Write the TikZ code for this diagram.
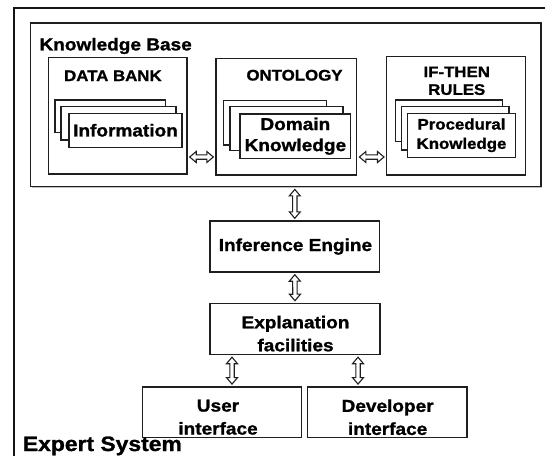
\documentclass[tikz,border=0pt]{standalone}
\usepackage{fontspec}
\setmainfont{Liberation Sans}[FakeStretch=1.1, BoldFeatures={FakeBold=1.2}]
\usetikzlibrary{calc}
\tikzset{
  box/.style={draw=black!88, line width=1.4pt, fill=white, inner sep=0pt},
  framestyle/.style={draw=black!92, line width=2pt},
  arrowline/.style={draw=black!88, line width=1.1pt, fill=white, line join=miter},
  tfifteen/.style={inner sep=0pt, align=center, font=\fontsize{15.3}{17.7}\selectfont\bfseries},
  tproc/.style={inner sep=0pt, align=center, font=\fontsize{15.3}{19.3}\selectfont\bfseries},
  tseventeen/.style={inner sep=0pt, align=center, font=\fontsize{17.3}{21}\selectfont\bfseries},
  ttwolines/.style={inner sep=0pt, align=center, font=\fontsize{17.3}{23}\selectfont\bfseries},
  tbig/.style={inner sep=0pt, font=\fontsize{20.8}{24}\selectfont\bfseries},
}
\newcommand\dblarr[2]{%
  \draw[arrowline] let \p1=($(#1)!2pt!(#2)$), \p2=($(#2)!2pt!(#1)$),
    \n1={atan2(\y2-\y1,\x2-\x1)}, \n2={veclen(\x2-\x1,\y2-\y1)} in
    [shift={(\p1)}, rotate=\n1]
    (0pt,0pt) -- (6.5pt,5.5pt) -- (6.5pt,2.2pt) -- ({\n2*1pt-6.5pt},2.2pt)
    -- ({\n2*1pt-6.5pt},5.5pt) -- ({\n2*1pt},0pt) -- ({\n2*1pt-6.5pt},-5.5pt)
    -- ({\n2*1pt-6.5pt},-2.2pt) -- (6.5pt,-2.2pt) -- (6.5pt,-5.5pt) -- cycle;}
\begin{document}
\begin{tikzpicture}[x=1pt,y=-1pt]
\useasboundingbox (0,0) rectangle (545,455);
\fill[white] (0,0) rectangle (545,455);
% outer frame (Expert System)
\draw[framestyle] (14,458) -- (14,8) -- (548,8);
% Knowledge base
\fill[black!25] (31.8,24.1) rectangle (542.2,187.9);
\node[box, minimum width=510.3pt, minimum height=163.7pt] (kb) at (285.85,104.85) {};
\node[tseventeen, anchor=base west] (kbl) at (39.3,50.4) {Knowledge Base};
% Data bank
\node[box, minimum width=138.3pt, minimum height=116.7pt] (db) at (117.85,115.65) {};
\node[tfifteen, anchor=base] (dbl) at (112.9,81) {DATA BANK};
\node[box, minimum width=110.7pt, minimum height=32.7pt] (dba) at (110.35,116.35) {};
\node[box, minimum width=115pt, minimum height=33.3pt] (dbb) at (118.5,123.35) {};
\node[box, minimum width=113pt, minimum height=34pt, tseventeen] (dbc) at (125.5,130.3) {Information};
% Ontology
\node[box, minimum width=140.7pt, minimum height=116.7pt] (onto) at (286.35,116.65) {};
\node[tfifteen, anchor=base] (ontol) at (294.5,80.5) {ONTOLOGY};
\node[box, minimum width=103.4pt, minimum height=44.3pt] (ona) at (275,122.85) {};
\node[box, minimum width=113pt, minimum height=44pt] (onb) at (286.5,128.7) {};
\node[box, minimum width=110.7pt, minimum height=44.3pt, tseventeen] (onc) at (295.35,136.15) {Domain\\Knowledge};
% If-then rules
\node[box, minimum width=139pt, minimum height=118.3pt] (ifr) at (456.2,115.85) {};
\node[tfifteen] (ifrl) at (456.7,80.8) {IF-THEN\\RULES};
\node[box, minimum width=107pt, minimum height=41.7pt] (ifa) at (449.2,120.85) {};
\node[box, minimum width=107.3pt, minimum height=43.3pt] (ifb) at (455.35,128.35) {};
\node[box, minimum width=107.6pt, minimum height=44pt, tproc] (ifc) at (461.5,135.3) {Procedural\\Knowledge};
% Lower boxes
\node[box, minimum width=169.6pt, minimum height=51pt] (inf) at (294.8,246.5) {};
\node[tseventeen, anchor=base] (infl) at (295.4,251) {Inference Engine};
\node[box, minimum width=170pt, minimum height=51.1pt] (exp) at (295,328.95) {};
\node[ttwolines] (expl) at (295.5,333.6) {Explanation\\facilities};
\node[box, minimum width=159.2pt, minimum height=50.4pt] (user) at (222.1,412) {};
\node[ttwolines] (userl) at (218,417.2) {User\\interface};
\node[box, minimum width=159.2pt, minimum height=50.4pt] (dev) at (387.2,412) {};
\node[ttwolines] (devl) at (387.6,417.2) {Developer\\interface};
\node[tbig, anchor=base west] (es) at (22.7,451) {Expert System};
% connectors
\coordinate (yh) at (0,157);
\coordinate (xu) at (232,0);
\coordinate (xd) at (358,0);
\dblarr{db.east |- yh}{onto.west |- yh}
\dblarr{onto.east |- yh}{ifr.west |- yh}
\dblarr{kb.south -| inf.north}{inf.north}
\dblarr{inf.south}{exp.north}
\dblarr{exp.south -| xu}{user.north -| xu}
\dblarr{exp.south -| xd}{dev.north -| xd}
\end{tikzpicture}
\end{document}
